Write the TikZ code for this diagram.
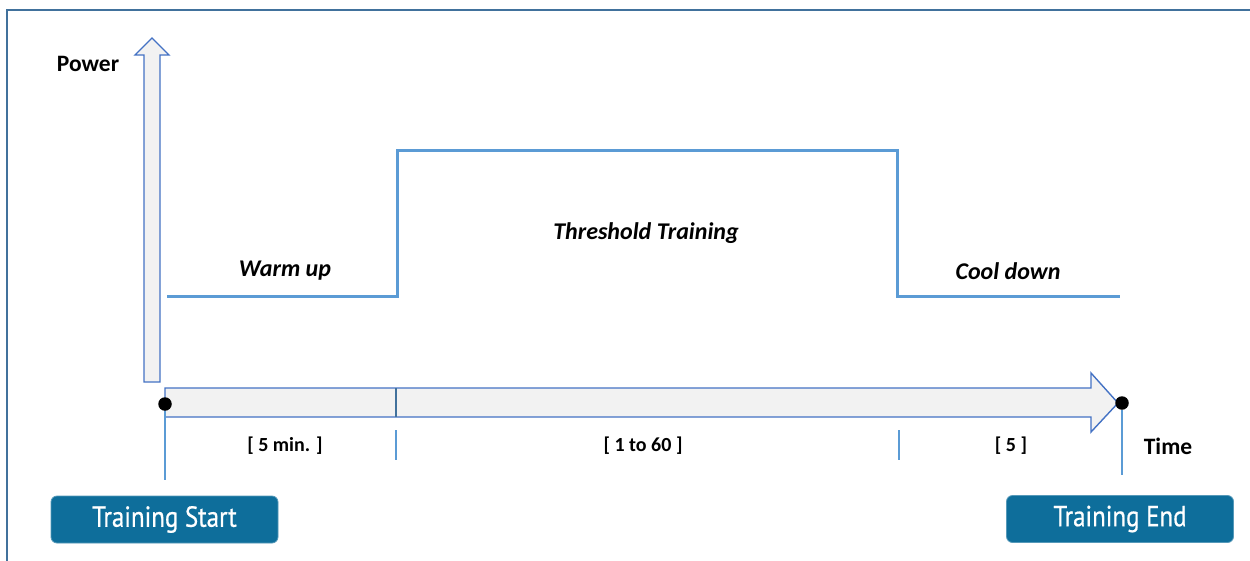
\documentclass[tikz,border=0pt]{standalone}
\usepackage{fontspec}
\setmainfont{Carlito}
\newfontfamily\btnfont[FakeStretch=0.86,FakeBold=0.6]{PT Sans}
\definecolor{arrowline}{HTML}{4472C4}
\definecolor{arrowfill}{HTML}{F2F2F2}
\definecolor{profile}{HTML}{5B9BD5}
\definecolor{frameclr}{HTML}{41719C}
\definecolor{btnfill}{HTML}{0E6E9B}
\begin{document}
\begin{tikzpicture}[x=1pt,y=-1pt,
  lbl/.style={font=\fontsize{24}{27}\selectfont\bfseries\itshape, inner sep=0pt},
  dur/.style={font=\fontsize{20}{23}\selectfont\bfseries, inner sep=0pt},
  axislbl/.style={font=\fontsize{23.5}{27}\selectfont\bfseries, inner sep=0pt},
  bigarrow/.style={draw=arrowline, fill=arrowfill, line width=1.4pt, line join=miter},
  profileline/.style={draw=profile, line width=3pt, line join=miter},
  tick/.style={draw=profile, line width=2pt},
  marker/.style={draw=profile, line width=1.5pt},
  dot/.style={circle, fill=black, inner sep=0pt, minimum size=13.5pt},
  btn/.style={draw=btnfill!70!white, line width=0.8pt, fill=btnfill, rounded corners=6pt, text=white,
    minimum width=227pt, minimum height=47pt, inner sep=0pt,
    font=\btnfont\fontsize{29}{32}\selectfont}]
\useasboundingbox (0,0) rectangle (1250,560);
\fill[white] (0,0) rectangle (1250,560);
\begin{scope}
\clip (0,0) rectangle (1250,560);
\draw[frameclr, line width=1.2pt] (7,10) rectangle (1280,600);
\end{scope}
% vertical power axis arrow
\draw[bigarrow] (144,382) -- (144,55) -- (135,55) -- (152,38) -- (169,55) -- (160,55) -- (160,382) -- cycle;
% horizontal time axis arrow
\draw[bigarrow] (165,388) -- (1091,388) -- (1091,373) -- (1118,403) -- (1091,432) -- (1091,417) -- (165,417) -- cycle;
\draw[frameclr, line width=1.4pt] (396,388) -- (396,417);
% power profile
\draw[profileline] (167,296) -- (397,296) -- (397,150) -- (897,150) -- (897,296) -- (1120,296);
% ticks
\draw[tick] (396,430) -- (396,460);
\draw[tick] (899,430) -- (899,460);
% start / end markers
\node[dot] (startdot) at (165,404) {};
\node[dot] (enddot) at (1122,403) {};
\coordinate (startfoot) at (165,480);
\coordinate (endfoot) at (1122,475);
\draw[marker] (startdot) -- (startfoot);
\draw[marker] (enddot) -- (endfoot);
% labels
\node[axislbl] (power) at (88,64) {Power};
\node[axislbl] (time) at (1168,446) {Time};
\node[lbl] (warm) at (285,271) {Warm up};
\node[lbl] (thresh) at (646,233) {Threshold Training};
\node[lbl] (cool) at (1008,271) {Cool down};
\node[dur] (d1) at (285,446) {[ 5 min. ]};
\node[dur] (d2) at (643,446) {[ 1 to 60 ]};
\node[dur] (d3) at (1011,446) {[ 5 ]};
% buttons
\node[btn] (bstart) at (164.5,519.5) {Training Start};
\node[btn] (bend) at (1120,519) {Training End};
\end{tikzpicture}
\end{document}
